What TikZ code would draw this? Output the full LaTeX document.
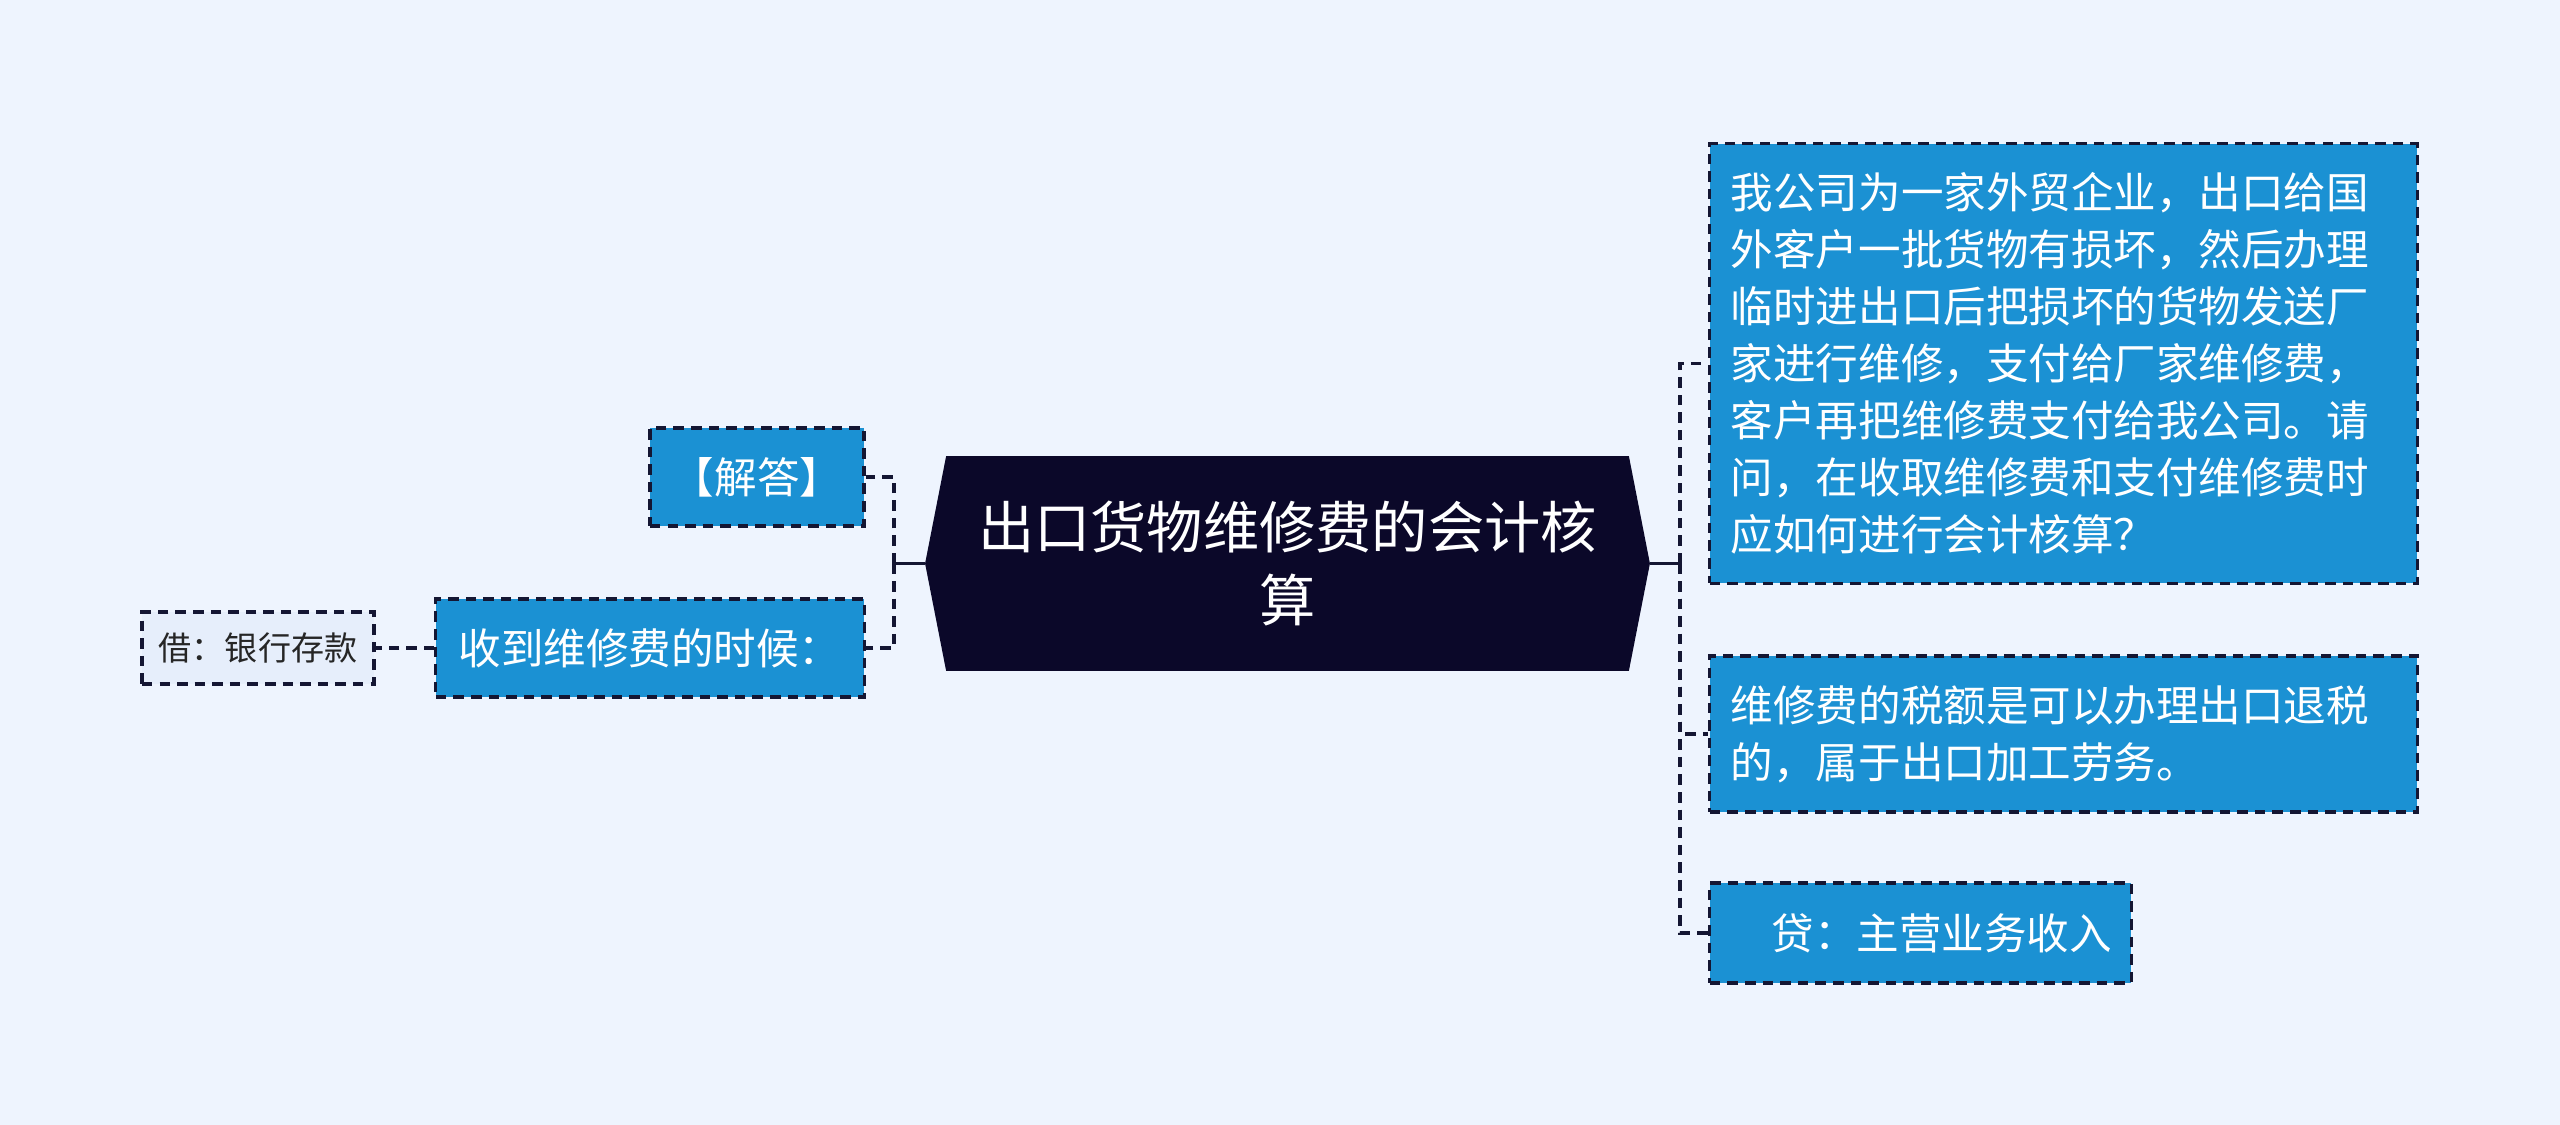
\documentclass[tikz,border=0pt]{standalone}
\usepackage{fontspec}
\newfontfamily\cjk{Noto Sans CJK SC}
\usetikzlibrary{backgrounds}
\definecolor{bgcol}{HTML}{EEF4FE}
\definecolor{topicblue}{HTML}{1B91D3}
\definecolor{rootnavy}{HTML}{0B0829}
\definecolor{linenavy}{HTML}{141633}
\definecolor{leafpale}{HTML}{E6EEFB}
\tikzset{rootbox/.style={inner sep=0pt, minimum width=7.23cm, minimum height=2.13cm,
                         align=center, text=white, font=\cjk\fontsize{16}{21}\selectfont},
        topicbox/.style={draw=linenavy, line width=0.9pt, dash pattern=on 3pt off 2pt,
                         fill=topicblue, text=white, inner sep=0pt,
                         font=\cjk\fontsize{12.1}{16.2}\selectfont},
        notebox/.style={topicbox, text width=6.65cm, align=left, inner xsep=0.21cm},
        leafbox/.style={draw=linenavy, line width=0.9pt, dash pattern=on 3pt off 2pt,
                        fill=leafpale, text=black!85, inner sep=0pt,
                        font=\cjk\fontsize{9.4}{12}\selectfont},
        trunklink/.style={draw=linenavy, line width=1pt},
        branchlink/.style={draw=linenavy, line width=1pt, dash pattern=on 3pt off 2pt},
        }

\begin{document}
\begin{tikzpicture}[x=0.01cm, y=-0.01cm]
    \useasboundingbox (0,0) rectangle (2560,1125);
    \begin{scope}[on background layer]
        \fill[bgcol] (0,0) rectangle (2560,1125);
    \end{scope}

    \node[rootbox] (root) at (1287.5,563.5) {出口货物维修费的会计核\\算};

    % right side
    \node[notebox, minimum height=4.39cm] (ask) at (2063.5,363.5)
        {我公司为一家外贸企业，出口给国\\外客户一批货物有损坏，然后办理\\临时进出口后把损坏的货物发送厂\\家进行维修，支付给厂家维修费，\\客户再把维修费支付给我公司。请\\问，在收取维修费和支付维修费时\\应如何进行会计核算？};
    \node[notebox, minimum height=1.56cm] (tax) at (2063.5,734)
        {维修费的税额是可以办理出口退税\\的，属于出口加工劳务。};
    \node[topicbox, minimum width=4.21cm, minimum height=1.00cm] (credit) at (1920.5,933)
        {\hspace*{1em}贷：主营业务收入};

    % left side
    \node[topicbox, minimum width=2.14cm, minimum height=0.98cm] (answer) at (757,477) {【解答】};
    \node[topicbox, minimum width=4.28cm, minimum height=0.98cm] (receive) at (650,648) {收到维修费的时候：};
    \node[leafbox, minimum width=2.32cm, minimum height=0.72cm] (debit) at (258,648) {借：银行存款};

    \begin{scope}[on background layer]
        \fill[rootnavy] ([xshift=0.21cm]root.north west) -- ([xshift=-0.21cm]root.north east)
            -- (root.east) -- ([xshift=-0.21cm]root.south east)
            -- ([xshift=0.21cm]root.south west) -- (root.west) -- cycle;
    \end{scope}

    \coordinate (rtrunk) at ([xshift=0.30cm]root.east);
    \coordinate (ltrunk) at ([xshift=-0.31cm]root.west);
    \draw[trunklink] (root.east) -- (rtrunk);
    \draw[trunklink] (root.west) -- (ltrunk);
    \foreach \n in {ask,tax,credit}
        \draw[branchlink] (rtrunk) |- (\n.west);
    \foreach \n in {answer,receive}
        \draw[branchlink] (ltrunk) |- (\n.east);
    \draw[branchlink] (receive.west) -- (debit.east);

\end{tikzpicture}
\end{document}
